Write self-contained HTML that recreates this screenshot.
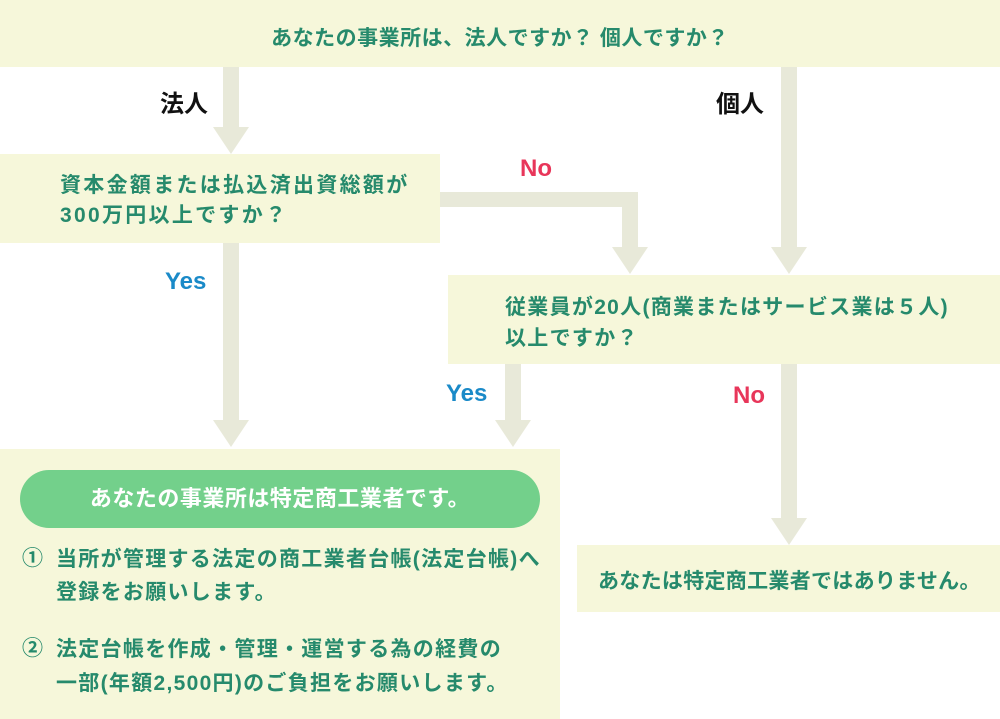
<!DOCTYPE html>
<html><head><meta charset="utf-8"><style>
body{margin:0;width:1000px;height:719px;position:relative;background:#fff;font-family:"Liberation Sans","Noto Sans CJK JP",sans-serif;font-weight:bold;overflow:hidden}
.b{position:absolute;background:#f6f7da}
.t{position:absolute;color:#268a6c;font-size:21px;letter-spacing:1.3px;line-height:32px;white-space:nowrap}
.v{position:absolute;background:#e8e9d9;width:16px}
.h{position:absolute;background:#e8e9d9;height:15px}
.a{position:absolute;width:0;height:0;border-left:18px solid transparent;border-right:18px solid transparent;border-top:27px solid #e8e9d9}
.l{position:absolute;font-size:24px}
</style></head><body>
<div class="b" style="left:0;top:0;width:1000px;height:67px"></div>
<div class="t" style="left:0;width:1000px;text-align:center;top:23px;letter-spacing:0.5px">あなたの事業所は、法人ですか？ 個人ですか？</div>
<div class="v" style="left:223px;top:67px;height:62px"></div><div class="a" style="left:213px;top:127px"></div>
<div class="v" style="left:781px;top:67px;height:182px"></div><div class="a" style="left:771px;top:247px"></div>
<div class="l" style="left:160px;top:84px;color:#111">法人</div>
<div class="l" style="left:716px;top:84px;color:#111">個人</div>
<div class="b" style="left:0;top:154px;width:440px;height:89px"></div>
<div class="t" style="left:60px;top:171px;line-height:30px;letter-spacing:2.3px">資本金額または払込済出資総額が<br>300万円以上ですか？</div>
<div class="h" style="left:440px;top:192px;width:198px"></div>
<div class="v" style="left:622px;top:192px;height:57px"></div><div class="a" style="left:612px;top:247px"></div>
<div class="l" style="left:520px;top:155px;color:#e8365a">No</div>
<div class="v" style="left:223px;top:243px;height:179px"></div><div class="a" style="left:213px;top:420px"></div>
<div class="l" style="left:165px;top:268px;color:#1a8ac8">Yes</div>
<div class="b" style="left:448px;top:275px;width:552px;height:89px"></div>
<div class="t" style="left:505px;top:292px;line-height:31px">従業員が20人(商業またはサービス業は５人)<br>以上ですか？</div>
<div class="v" style="left:505px;top:364px;height:58px"></div><div class="a" style="left:495px;top:420px"></div>
<div class="l" style="left:446px;top:380px;color:#1a8ac8">Yes</div>
<div class="v" style="left:781px;top:364px;height:156px"></div><div class="a" style="left:771px;top:518px"></div>
<div class="l" style="left:733px;top:382px;color:#e8365a">No</div>
<div class="b" style="left:0;top:449px;width:560px;height:270px"></div>
<div style="position:absolute;left:20px;top:470px;width:520px;height:58px;border-radius:29px;background:#73d08b;color:#fff;font-size:22px;letter-spacing:0.5px;line-height:58px;text-align:center">あなたの事業所は特定商工業者です。</div>
<div class="t" style="left:22px;top:543px">①</div>
<div class="t" style="left:56px;top:543px;line-height:33px">当所が管理する法定の商工業者台帳(法定台帳)へ<br>登録をお願いします。</div>
<div class="t" style="left:22px;top:633px">②</div>
<div class="t" style="left:56px;top:633px;line-height:34px">法定台帳を作成・管理・運営する為の経費の<br>一部(年額2,500円)のご負担をお願いします。</div>
<div class="b" style="left:577px;top:545px;width:423px;height:67px"></div>
<div class="t" style="left:598px;top:566px;letter-spacing:0.3px">あなたは特定商工業者ではありません。</div>
</body></html>
